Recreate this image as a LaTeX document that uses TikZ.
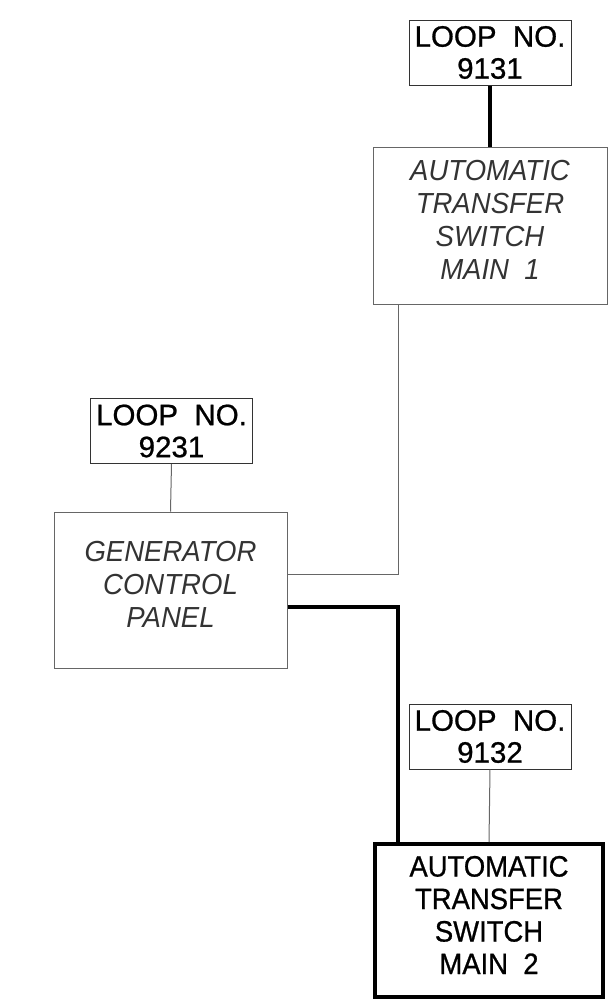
\documentclass[tikz,border=0pt]{standalone}
\usepackage{fontspec}
\setmainfont{Liberation Sans}
\newfontfamily\loopfont[FakeStretch=1.0,FakeBold=0.8]{Liberation Sans}
\newfontfamily\boxfont[FakeStretch=0.95]{Liberation Sans}
\newfontfamily\mainfont[FakeStretch=0.93,FakeBold=0.8]{Liberation Sans}
\begin{document}
\begin{tikzpicture}[x=1pt,y=-1pt,
  loopbox/.style={draw=black!80, line width=1pt, minimum width=162pt, minimum height=65pt,
    inner sep=0pt, align=center, font=\loopfont\fontsize{29.5}{32}\selectfont},
  panelbox/.style={draw=black!60, line width=1pt, inner sep=0pt, align=center, text=black!80,
    font=\boxfont\itshape\fontsize{29}{33}\selectfont, text depth=11pt},
  mainbox/.style={draw=black, line width=4pt, inner sep=0pt, align=center, text=black,
    font=\mainfont\fontsize{29.5}{32.5}\selectfont, text depth=11pt},
  thinline/.style={draw=black!60, line width=1pt},
  heavyline/.style={draw=black, line width=4pt},
]
\useasboundingbox (0,0) rectangle (610,1002);

\node[loopbox] (l9131) at (490,52.5) {LOOP~~NO.\\9131};
\node[panelbox, minimum width=234pt, minimum height=157pt] (ats1) at (490,225.5)
  {AUTOMATIC\\TRANSFER\\SWITCH\\MAIN~~1};

\node[loopbox] (l9231) at (171.5,431) {LOOP~~NO.\\9231};
\node[panelbox, minimum width=233pt, minimum height=156pt] (gcp) at (170.5,590)
  {GENERATOR\\CONTROL\\PANEL};

\node[loopbox] (l9132) at (490,736.5) {LOOP~~NO.\\9132};
\node[mainbox, minimum width=228pt, minimum height=153pt] (main2) at (489,920.5)
  {AUTOMATIC\\TRANSFER\\SWITCH\\MAIN~~2};

\coordinate (c1) at (398,574);
\coordinate (c2) at (398,607);

\draw[heavyline] (l9131.south) -- (ats1.north);
\draw[thinline] (l9231.south) -- (gcp.north);
\draw[thinline] (l9132.south) -- (main2.north);
\draw[thinline] (ats1.south -| c1) |- (gcp.east |- c1);
\draw[heavyline] (gcp.east |- c2) -| (main2.north -| c2);
\end{tikzpicture}
\end{document}
